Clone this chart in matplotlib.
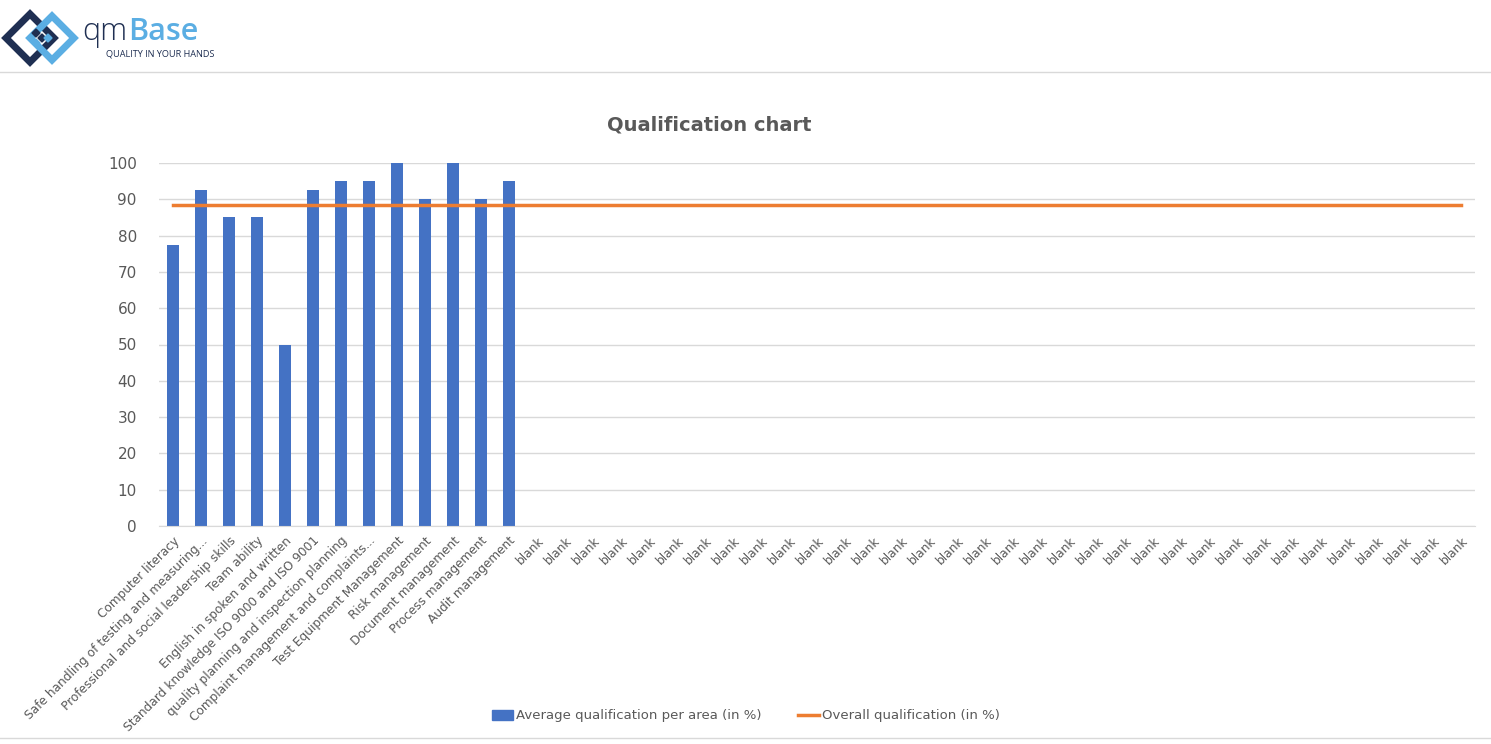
import numpy as np
import matplotlib
matplotlib.use('Agg')
import matplotlib.pyplot as plt
from matplotlib.patches import RegularPolygon
from matplotlib.lines import Line2D

# Data
areas = ['Computer literacy',
         'Safe handling of testing and measuring...',
         'Professional and social leadership skills',
         'Team ability',
         'English in spoken and written',
         'Standard knowledge ISO 9000 and ISO 9001',
         'quality planning and inspection planning',
         'Complaint management and complaints...',
         'Test Equipment Management',
         'Risk management',
         'Document management',
         'Process management',
         'Audit management']
scores = [77.5, 92.5, 85, 85, 50, 92.5, 95, 95, 100, 90, 100, 90, 95]
n_blank = 34
overall = 88.3

labels = areas + ['blank'] * n_blank
values = scores + [np.nan] * n_blank
overall_line = [overall] * len(labels)

BLUE = '#4472C4'
ORANGE = '#ED7D31'
GRAY = '#595959'
NAVY = '#1F2F52'
LIGHT = '#5BAEE3'

W, H = 1491, 744
fig = plt.figure(figsize=(W / 100, H / 100), dpi=100)

# overlay in pixel coords for header / logo / separators
bg = fig.add_axes([0, 0, 1, 1])
bg.set_xlim(0, W)
bg.set_ylim(H, 0)
bg.axis('off')
bg.plot([0, W], [72, 72], color='#d9d9d9', lw=1)
bg.plot([0, W], [738, 738], color='#d9d9d9', lw=1)

# logo
bg.add_patch(RegularPolygon((30, 38), 4, radius=24, fill=False, ec=NAVY, lw=5))
bg.add_patch(RegularPolygon((52, 38), 4, radius=22, fill=False, ec=LIGHT, lw=5))
for (cx, cy, c) in [(36, 33, NAVY), (42, 38, NAVY), (36, 43, LIGHT), (48, 38, LIGHT)]:
    bg.add_patch(RegularPolygon((cx, cy), 4, radius=4, color=c))
t_qm = bg.text(82, 40, 'qm', color=NAVY, fontsize=22, family='Open Sans',
               fontweight='light', va='baseline')
fig.canvas.draw()
ext = t_qm.get_window_extent()
x_base = ext.x1 + 1
bg.text(x_base, 40, 'Base', color=LIGHT, fontsize=22, family='Open Sans',
        fontweight='semibold', va='baseline')
bg.text(106, 53.5, 'QUALITY IN YOUR HANDS', color=NAVY, fontsize=6.6,
        family='Open Sans', va='center')

# title
fig.text(709 / W, 1 - 125 / H, 'Qualification chart', ha='center', va='center',
         fontsize=14, fontweight='bold', color=GRAY)

ax = fig.add_axes([159 / W, 1 - 526 / H, (1475 - 159) / W, (526 - 163) / H])
x = np.arange(len(labels))
ax.bar(x, values, width=0.43, color=BLUE, zorder=2)
ax.plot(x, overall_line, color=ORANGE, lw=2.5, zorder=3)

ax.set_xlim(-0.5, len(labels) - 0.5)
ax.set_ylim(0, 100)
ax.set_yticks(np.arange(0, 101, 10))
ax.yaxis.grid(True, color='#d9d9d9', lw=1)
ax.set_axisbelow(True)
for s in ['top', 'right', 'left']:
    ax.spines[s].set_visible(False)
ax.spines['bottom'].set_color('#d9d9d9')
ax.tick_params(axis='both', length=0, colors=GRAY)
ax.tick_params(axis='y', labelsize=11, pad=16)
ax.set_xticks(x)
ax.set_xticklabels(labels, rotation=45, ha='right', rotation_mode='anchor',
                   fontsize=8.7, color=GRAY)
ax.tick_params(axis='x', pad=6)

handles = [plt.Rectangle((0, 0), 1, 1, color=BLUE),
           Line2D([0], [0], color=ORANGE, lw=2.5)]
fig.legend(handles, ['Average qualification per area (in %)', 'Overall qualification (in %)'],
           loc='center', bbox_to_anchor=(746 / W, 1 - 716 / H), ncol=2, frameon=False,
           fontsize=9.5, labelcolor=GRAY, handlelength=1.6, handletextpad=0.2,
           columnspacing=2.8)

fig.savefig('out.png', dpi=100)
